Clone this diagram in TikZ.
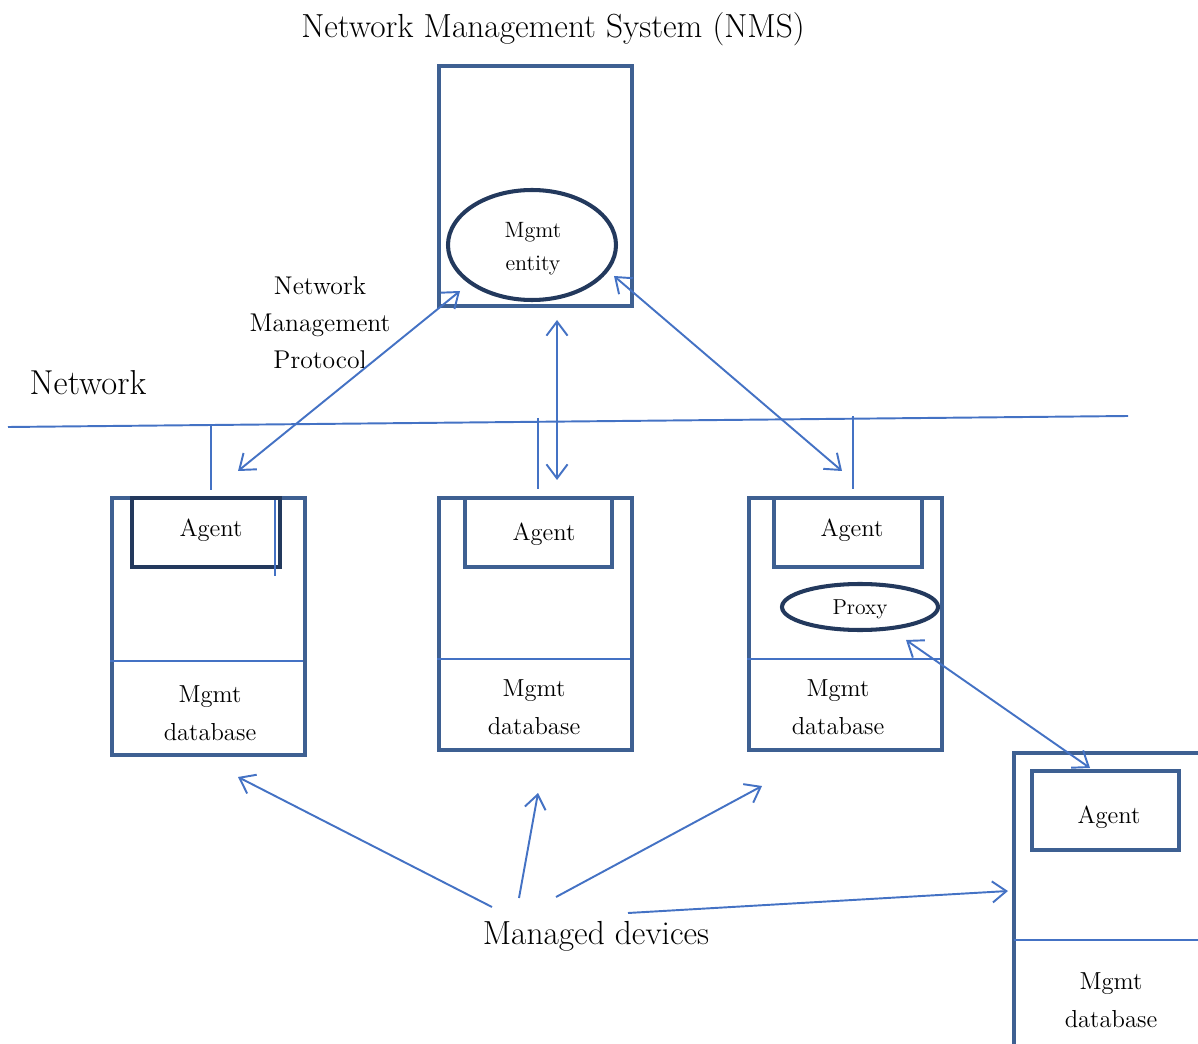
\documentclass[tikz,border=0pt]{standalone}
\usetikzlibrary{arrows.meta,shapes.geometric}
\definecolor{boxblue}{RGB}{62,96,146}
\definecolor{navy}{RGB}{35,57,93}
\definecolor{lineblue}{RGB}{68,114,196}
\begin{document}
\begin{tikzpicture}[x=0.02cm,y=-0.02cm,
  pxbox/.style 2 args={draw=boxblue,line width=2.3pt,minimum width=#1*0.02cm,minimum height=#2*0.02cm,inner sep=0pt,anchor=north west},
  agentbox/.style 2 args={draw=navy,line width=2.3pt,minimum width=#1*0.02cm,minimum height=#2*0.02cm,inner sep=0pt,anchor=north west,fill=white},
  agentbox2/.style 2 args={draw=boxblue,line width=2.3pt,minimum width=#1*0.02cm,minimum height=#2*0.02cm,inner sep=0pt,anchor=north west,fill=white},
  oval/.style 2 args={draw=navy,line width=2.3pt,ellipse,minimum width=#1*0.02cm,minimum height=#2*0.02cm,inner sep=0pt},
  thin/.style={draw=lineblue,line width=1.1pt},
  arr/.style={thin,-{Straight Barb[length=8pt,width=12pt,line width=1.1pt]}},
  darr/.style={thin,{Straight Barb[length=8pt,width=12pt,line width=1.1pt]}-{Straight Barb[length=8pt,width=12pt,line width=1.1pt]}},
  lbl/.style={font=\fontsize{14}{21.5}\selectfont,align=center,inner sep=0pt},
  biglbl/.style={font=\fontsize{19}{22}\selectfont,inner sep=0pt},
]
\useasboundingbox (0,0) rectangle (1198,1044);

% Titles
\node[biglbl] (title) at (553,29) {Network Management System (NMS)};
\node[biglbl,font=\fontsize{19.7}{22}\selectfont] (netlbl) at (88,383) {Network};
\node[biglbl] (managed) at (596,936) {Managed devices};
\node[lbl,font=\fontsize{14.6}{21}\selectfont] (nmp) at (320,323) {Network\\Management\\Protocol};

% NMS box
\node[pxbox={193}{240}] (nms) at (437,64) {};
\node[oval={168}{110}] (entity) at (532,245) {};
\node[lbl,font=\fontsize{12.6}{18.7}\selectfont] (entitytxt) at (533,249) {Mgmt\\entity};

% Network line
\coordinate (netL) at (8,427);
\coordinate (netR) at (1128,416);
\draw[thin] (netL) -- (netR);

% Device 1
\node[pxbox={193}{257}] (d1) at (110,496) {};
\draw[thin] (110,661) -- (303,661);
\node[agentbox={148}{69}] (a1) at (130,496) {};
\node[lbl] at (211,530) {Agent};
\draw[thin] (275,500) -- (275,576);
\node[lbl] (db1) at (210,713) {Mgmt\\database};

% Device 2
\node[pxbox={193}{252}] (d2) at (437,496) {};
\draw[thin] (437,659) -- (630,659);
\node[agentbox2={147}{69}] (a2) at (463,496) {};
\node[lbl] at (544,534) {Agent};
\node[lbl] (db2) at (534,707) {Mgmt\\database};

% Device 3
\node[pxbox={193}{252}] (d3) at (747,496) {};
\draw[thin] (747,659) -- (940,659);
\node[agentbox2={148}{69}] (a3) at (772,496) {};
\node[lbl] at (852,530) {Agent};
\node[oval={156}{46},fill=white] (proxy) at (860,607) {};
\node[lbl,font=\fontsize{12.3}{14}\selectfont] at (860,609) {Proxy};
\node[lbl] (db3) at (838,707) {Mgmt\\database};

% Device 4 (cut off)
\draw[boxblue,line width=2.3pt] (1014,1044) -- (1014,753) -- (1198,753);
\draw[thin] (1014,940) -- (1198,940);
\node[agentbox2={147}{79}] (a4) at (1030,769) {};
\node[lbl] at (1109,817) {Agent};
\node[lbl] (db4) at (1111,1000) {Mgmt\\database};

% Drops from network
\draw[thin] (211,426) -- (211,490);
\draw[thin] (538,418) -- (538,489);
\draw[thin] (853,416) -- (853,489);

% Protocol arrows
\coordinate (p1a) at (238,471); \coordinate (p1b) at (460,291);
\coordinate (p2a) at (557,320); \coordinate (p2b) at (557,480);
\coordinate (p3a) at (614,276); \coordinate (p3b) at (842,471);
\coordinate (p4a) at (906,640); \coordinate (p4b) at (1090,768);
\draw[darr] (p1a) -- (p1b);
\draw[darr] (p2a) -- (p2b);
\draw[darr] (p3a) -- (p3b);
\draw[darr] (p4a) -- (p4b);

% Managed devices arrows
\coordinate (m1s) at (492,907); \coordinate (m1e) at (238,777);
\coordinate (m2s) at (519,898); \coordinate (m2e) at (538,793);
\coordinate (m3s) at (556,897); \coordinate (m3e) at (762,786);
\coordinate (m4s) at (628,913); \coordinate (m4e) at (1008,891);
\draw[arr] (m1s) -- (m1e);
\draw[arr] (m2s) -- (m2e);
\draw[arr] (m3s) -- (m3e);
\draw[arr] (m4s) -- (m4e);
\end{tikzpicture}
\end{document}
